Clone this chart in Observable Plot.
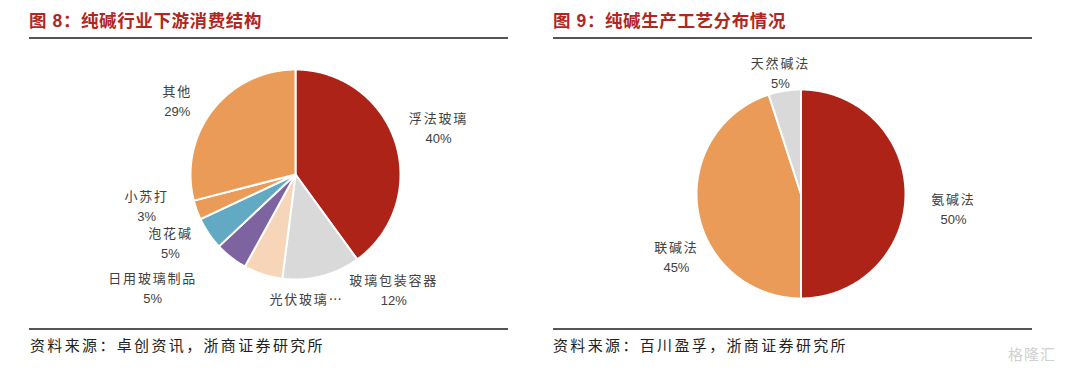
<!DOCTYPE html>
<html><head><meta charset="utf-8">
<script src="https://cdn.jsdelivr.net/npm/d3@7"></script>
<script src="https://cdn.jsdelivr.net/npm/@observablehq/plot@0.6"></script>
<style>
body{margin:0;background:#fff;width:1080px;height:377px;position:relative;overflow:hidden;font-family:"Liberation Sans","Noto Sans CJK SC",sans-serif;}
.title{position:absolute;top:11px;line-height:20px;font-size:17.5px;letter-spacing:0.6px;font-weight:bold;color:#B0271F;font-family:"Liberation Sans","Noto Sans CJK SC",sans-serif;white-space:nowrap;}
.rule{position:absolute;height:2px;background:#555;}
.source{position:absolute;top:335px;line-height:20px;font-size:15px;color:#222;letter-spacing:2.35px;font-family:"Noto Sans CJK SC",sans-serif;white-space:nowrap;}
.chart{position:absolute;top:40px;}
.wm{position:absolute;left:1008px;top:343px;font-size:15px;color:#d0d0d0;font-family:"Noto Sans CJK SC";letter-spacing:1px;}
</style></head><body>
<div class="title" style="left:29px">图 8：纯碱行业下游消费结构</div>
<div class="rule" style="left:29px;width:479px;top:37px"></div>
<div class="chart" id="left" style="left:0px"></div>
<div class="rule" style="left:29px;width:479px;top:328px"></div>
<div class="source" style="left:30px">资料来源：卓创资讯，浙商证券研究所</div>

<div class="title" style="left:553px">图 9：纯碱生产工艺分布情况</div>
<div class="rule" style="left:553px;width:479px;top:37px"></div>
<div class="chart" id="right" style="left:540px"></div>
<div class="rule" style="left:553px;width:479px;top:328px"></div>
<div class="source" style="left:553px">资料来源：百川盈孚，浙商证券研究所</div>
<div class="wm">格隆汇</div>
<script>
// ---- data: left pie ----
const leftCategories = ["浮法玻璃","玻璃包装容器","光伏玻璃","日用玻璃制品","泡花碱","小苏打","其他"];
const leftValues = [40,12,6,5,5,3,29];
const leftTruncated = ["光伏玻璃"];
// ---- data: right pie ----
const rightCategories = ["氨碱法","联碱法","天然碱法"];
const rightValues = [50,45,5];
const rightTruncated = [];

// ---- styles / layout ----
const leftColors = ["#AE2318","#D9D9D9","#F6D5B9","#7D63A0","#62A9C3","#E99B57","#E99B57"];
const rightColors = ["#AE2318","#E99B57","#D9D9D9"];
const leftLabelAngle = [72.2,139.8,175,231.4,241.1,257.9,301.4];
const leftLabelRadius = [1.43,1.45,1.195,1.74,1.36,1.45,1.32];
const rightLabelAngle = [96,243,350.3];
const rightLabelRadius = [1.467,1.338,1.17];

const nameFont = '"Noto Sans CJK SC","Liberation Sans",sans-serif';
const numFont = '"Liberation Sans",sans-serif';

function pie({categories, values, colors, truncated, labelAngle, labelRadius, cx, cy, r, width, height}) {
  const arcs = d3.pie().sort(null).value(d => d)(values);
  const pts = [];
  arcs.forEach((a, i) => {
    const n = Math.max(2, Math.ceil((a.endAngle - a.startAngle) / (Math.PI / 360)));
    pts.push({k: i, x: 0, y: 0, fill: colors[i]});
    for (let j = 0; j <= n; j++) {
      const t = a.startAngle + (a.endAngle - a.startAngle) * j / n;
      pts.push({k: i, x: Math.sin(t), y: Math.cos(t), fill: colors[i]});
    }
  });
  const labels = categories.map((c, i) => {
    const t = labelAngle[i] * Math.PI / 180;
    const trunc = truncated.includes(c);
    return {
      x: labelRadius[i] * Math.sin(t),
      y: labelRadius[i] * Math.cos(t),
      name: trunc ? c + "…" : c,
      pct: trunc ? "" : values[i] + "%",
      single: trunc
    };
  });
  const chart = Plot.plot({
    width, height, margin: 0,
    style: {fontFamily: numFont, background: "transparent"},
    x: {domain: [-cx / r, (width - cx) / r], axis: null},
    y: {domain: [-(height - cy) / r, cy / r], axis: null},
    color: {type: "identity"},
    marks: [
      Plot.line(pts, {x: "x", y: "y", z: "k", fill: "fill", stroke: "white", strokeWidth: 2, curve: "linear-closed", strokeLinejoin: "round"}),
      Plot.text(labels.filter(d => d.single), {x: "x", y: "y", text: "name", fontSize: 13, fill: "#404040", fontFamily: nameFont}),
      Plot.text(labels.filter(d => !d.single), {x: "x", y: "y", text: "name", dy: -10, fontSize: 13, fill: "#404040", fontFamily: nameFont}),
      Plot.text(labels.filter(d => !d.single), {x: "x", y: "y", text: "pct", dy: 10, fontSize: 13, fill: "#404040", fontFamily: numFont})
    ]
  });
  d3.select(chart).selectAll("g").filter(function() {
    const f = this.getAttribute("font-family");
    return f && f.startsWith('"Noto');
  }).style("letter-spacing", "1.8px");
  return chart;
}

document.getElementById("left").appendChild(pie({
  categories: leftCategories, values: leftValues, colors: leftColors, truncated: leftTruncated,
  labelAngle: leftLabelAngle, labelRadius: leftLabelRadius,
  cx: 295, cy: 134, r: 105, width: 540, height: 288
}));
document.getElementById("right").appendChild(pie({
  categories: rightCategories, values: rightValues, colors: rightColors, truncated: rightTruncated,
  labelAngle: rightLabelAngle, labelRadius: rightLabelRadius,
  cx: 260.5, cy: 153.5, r: 104.5, width: 540, height: 288
}));
</script>
</body></html>
